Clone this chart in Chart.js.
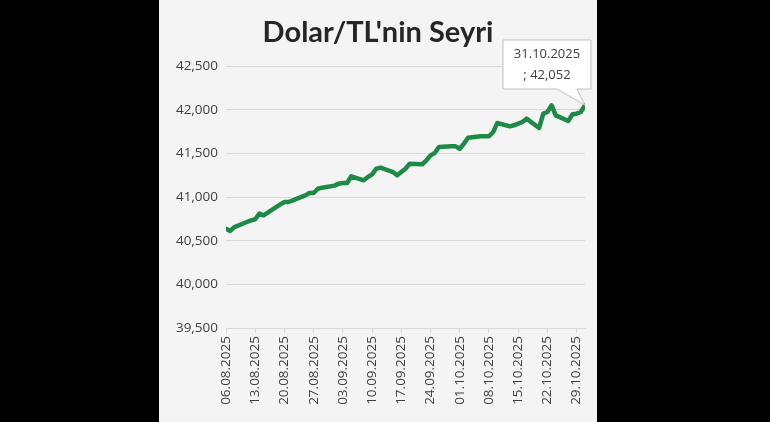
<!DOCTYPE html>
<html><head><meta charset="utf-8">
<script src="https://cdn.jsdelivr.net/npm/chart.js@4.4.0/dist/chart.umd.min.js"></script>
<style>
html,body{margin:0;padding:0;background:#000;width:770px;height:422px;overflow:hidden}
#panel{position:absolute;left:159px;top:0;width:438px;height:422px;background:#f4f4f4}
</style></head><body>
<div id="panel"><canvas id="c" width="438" height="422"></canvas></div>
<script>
const title = "Dolar/TL'nin Seyri";
const dates = ["06.08.2025","07.08.2025","08.08.2025","11.08.2025","12.08.2025","13.08.2025","14.08.2025","15.08.2025","18.08.2025","19.08.2025","20.08.2025","21.08.2025","22.08.2025","25.08.2025","26.08.2025","27.08.2025","28.08.2025","29.08.2025","01.09.2025","02.09.2025","03.09.2025","04.09.2025","05.09.2025","08.09.2025","09.09.2025","10.09.2025","11.09.2025","12.09.2025","15.09.2025","16.09.2025","17.09.2025","18.09.2025","19.09.2025","22.09.2025","23.09.2025","24.09.2025","25.09.2025","26.09.2025","29.09.2025","30.09.2025","01.10.2025","02.10.2025","03.10.2025","06.10.2025","07.10.2025","08.10.2025","09.10.2025","10.10.2025","13.10.2025","14.10.2025","15.10.2025","16.10.2025","17.10.2025","20.10.2025","21.10.2025","22.10.2025","23.10.2025","24.10.2025","27.10.2025","28.10.2025","29.10.2025","30.10.2025","31.10.2025"];
const values = [40637,40611,40656,40714,40733,40745,40810,40790,40885,40916,40943,40943,40962,41019,41046,41046,41095,41107,41130,41153,41160,41160,41237,41191,41229,41260,41324,41336,41286,41248,41286,41324,41382,41374,41420,41477,41504,41572,41580,41580,41553,41611,41679,41695,41695,41695,41744,41847,41809,41821,41840,41859,41897,41790,41954,41973,42050,41935,41870,41947,41954,41973,42052];
const yTicks = [39500,40000,40500,41000,41500,42000,42500];
const calloutLines = ["31.10.2025","; 42,052"];

function toDay(s){const [d,m,y]=s.split('.').map(Number);return Date.UTC(y,m-1,d)/86400000;}
const day0 = toDay(dates[0]);
const pts = dates.map((d,i)=>({x:toDay(d)-day0,y:values[i]}));
function fmtDay(n){const t=new Date((day0+n)*86400000);const p=v=>String(v).padStart(2,'0');return p(t.getUTCDate())+'.'+p(t.getUTCMonth()+1)+'.'+t.getUTCFullYear();}
const lastX = pts[pts.length-1].x;

const deco = {
  id:'deco',
  afterDraw(chart){
    const ctx=chart.ctx;
    ctx.save();
    ctx.fillStyle='#262626';
    ctx.font='bold 29px Lato, "Open Sans", sans-serif';
    ctx.textAlign='center';ctx.textBaseline='middle';
    ctx.fillText(title,219,33);
    const meta=chart.getDatasetMeta(0);
    const p=meta.data[meta.data.length-1];
    const bx=344,by=40,bw=88,bh=49;
    ctx.beginPath();
    ctx.moveTo(bx,by);ctx.lineTo(bx+bw,by);ctx.lineTo(bx+bw,by+bh);
    ctx.lineTo(bx+bw-14,by+bh);ctx.lineTo(p.x,p.y);ctx.lineTo(bx+bw-34,by+bh);
    ctx.lineTo(bx,by+bh);ctx.closePath();
    ctx.fillStyle='#ffffff';ctx.fill();
    ctx.strokeStyle='#bfbfbf';ctx.lineWidth=1;ctx.stroke();
    ctx.fillStyle='#404040';ctx.font='13px "Open Sans", sans-serif';
    ctx.fillText(calloutLines[0],bx+bw/2,by+14);
    ctx.fillText(calloutLines[1],bx+bw/2,by+35);
    ctx.restore();
  }
};

new Chart(document.getElementById('c'),{
  type:'line',
  data:{datasets:[{data:pts,borderColor:'#1e8a45',borderWidth:4.5,pointRadius:0,tension:0,borderJoinStyle:'round',borderCapStyle:'round'}]},
  options:{
    responsive:false,animation:false,
    layout:{padding:{top:66,right:12,left:0,bottom:4}},
    plugins:{legend:{display:false},tooltip:{enabled:false},title:{display:false}},
    scales:{
      x:{type:'linear',min:0,max:lastX,
        afterBuildTicks(s){s.ticks=[];for(let v=0;v<=lastX;v+=7)s.ticks.push({value:v});},
        afterFit(s){s.height=90;},
        grid:{drawOnChartArea:false,drawTicks:true,tickLength:5,color:'#d9d9d9'},
        border:{color:'#d9d9d9'},
        ticks:{autoSkip:false,minRotation:90,maxRotation:90,color:'#404040',font:{size:13.5,family:'"Open Sans", sans-serif'},callback:v=>fmtDay(v)}},
      y:{min:39500,max:42500,
        afterBuildTicks(s){s.ticks=yTicks.map(v=>({value:v}));},
        afterFit(s){s.width=67;},
        grid:{color:'#d9d9d9',drawTicks:false},
        border:{display:false},
        ticks:{padding:8,color:'#404040',font:{size:13.5,family:'"Open Sans", sans-serif'},callback:v=>v.toLocaleString('en-US')}}
    }
  },
  plugins:[deco]
});
</script></body></html>
